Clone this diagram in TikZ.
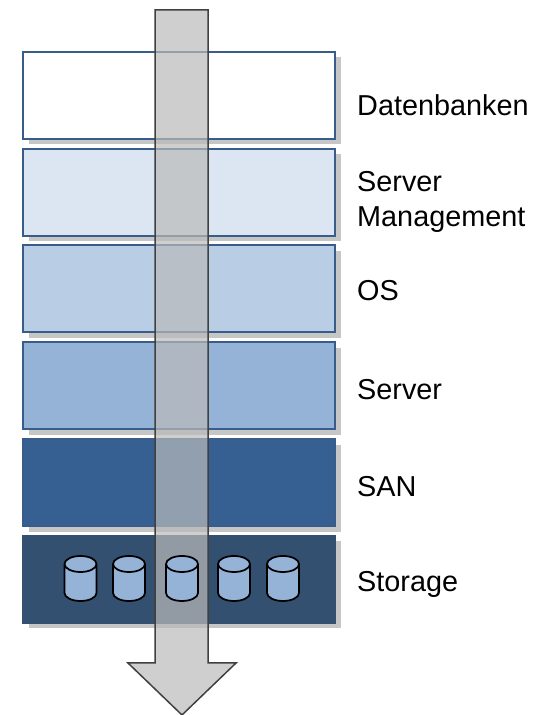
\documentclass[tikz,border=0pt]{standalone}
\usepackage{fontspec}
\setmainfont{Liberation Sans}
\usetikzlibrary{shadows}
\definecolor{layerline}{HTML}{385D8A}
\definecolor{layerA}{HTML}{FFFFFF}
\definecolor{layerB}{HTML}{DCE6F2}
\definecolor{layerC}{HTML}{B9CDE5}
\definecolor{layerD}{HTML}{95B3D7}
\definecolor{layerE}{HTML}{366092}
\definecolor{layerF}{HTML}{345070}
\definecolor{shadowgray}{HTML}{C6C6C6}
\def\diskat(#1,#2){\draw[disk] ({#1-0.32},{#2+0.29}) -- ({#1-0.32},{#2-0.29}) arc (180:360:0.32 and 0.16) -- ({#1+0.32},{#2+0.29}) arc (0:360:0.32 and 0.16);}
\tikzset{
	layer/.style={draw=layerline, line width=0.04cm, minimum width=6.24cm, minimum height=1.74cm, drop shadow={shadow xshift=0.11cm, shadow yshift=-0.11cm, fill=shadowgray, opacity=1}},
	disk/.style={draw=black, line width=0.035cm, fill=layerD, line join=round},
	caption/.style={anchor=west, align=left, font=\fontsize{16.4pt}{19.6pt}\selectfont}
}
\begin{document}
\begin{tikzpicture}
		%%%%% START %%%%%
		\useasboundingbox (0, 0) rectangle (10.78, 14.3);
		
		\node[layer, fill=layerA] (datenbanken) at (3.58, 12.39) {};
		\node[layer, fill=layerB] (management) at (3.58, 10.45) {};
		\node[layer, fill=layerC] (os) at (3.58, 8.52) {};
		\node[layer, fill=layerD] (server) at (3.58, 6.58) {};
		\node[layer, fill=layerE] (san) at (3.58, 4.64) {};
		\node[layer, fill=layerF, draw=layerF] (storage) at (3.58, 2.71) {};
		
		\draw[line width=0.03cm, draw=black!75, fill=black!27, fill opacity=0.7] (3.1, 14.1) -- (4.16, 14.1) -- (4.16, 1.04) -- (4.72, 1.04) -- (3.64, 0) -- (2.56, 1.04) -- (3.1, 1.04) -- cycle;
		
		\diskat(1.61,2.73)
		\diskat(2.58,2.73)
		\diskat(3.64,2.73)
		\diskat(4.68,2.73)
		\diskat(5.66,2.73)
		
		\node[caption] (lblDatenbanken) at (7.02, 12.2) {Datenbanken};
		\node[caption] (lblManagement) at (7.02, 10.26) {Server\\Management};
		\node[caption] (lblOs) at (7.02, 8.48) {OS};
		\node[caption] (lblServer) at (7.02, 6.5) {Server};
		\node[caption] (lblSan) at (7.02, 4.56) {SAN};
		\node[caption] (lblStorage) at (7.02, 2.62) {Storage};
		
		%%%%% END %%%%%
	\end{tikzpicture}
\end{document}
